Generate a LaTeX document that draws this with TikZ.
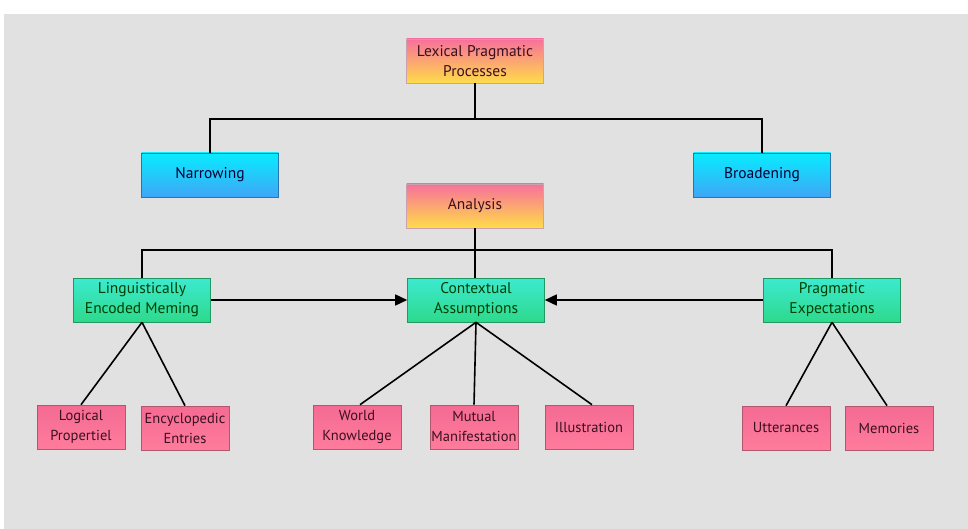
\documentclass[tikz,border=0pt]{standalone}
\usepackage{fontspec}
\setmainfont{PT Sans}
\usetikzlibrary{arrows.meta}
\definecolor{bggray}{HTML}{E1E1E1}
\definecolor{pkA}{HTML}{F7709C}
\definecolor{pkB}{HTML}{FFDC48}
\definecolor{blA}{HTML}{08ECFF}
\definecolor{blB}{HTML}{3FA6F6}
\definecolor{grA}{HTML}{3CEAD0}
\definecolor{grB}{HTML}{2ED98C}
\definecolor{rsA}{HTML}{F46A93}
\definecolor{rsB}{HTML}{FF7C9C}
\definecolor{txt}{HTML}{3A1020}
\tikzset{
  x=1pt, y=-1pt,
  base/.style={rectangle, inner sep=0pt, align=center, font=\fontsize{15.5}{20}\selectfont, text=txt},
  bigbox/.style={base, minimum width=137pt, minimum height=44pt},
  smallbox/.style={base, minimum width=88pt, minimum height=44pt, font=\fontsize{14.5}{20}\selectfont},
  warmbox/.style={bigbox, top color=pkA, bottom color=pkB, draw=pkA!60!black!50!white, line width=0.6pt},
  bluebox/.style={bigbox, top color=blA, bottom color=blB, draw=blB!70!black, line width=0.6pt, text=black!80!blue},
  greenbox/.style={bigbox, top color=grA, bottom color=grB, draw=grB!70!black, line width=0.6pt, text=black!75!green},
  pinkbox/.style={smallbox, top color=rsA, bottom color=rsB, draw=rsB!70!black, line width=0.6pt, text=txt},
  link/.style={draw=black, line width=1.6pt},
  arrowlink/.style={link, -{Triangle[length=12pt,width=11pt]}}
}
\begin{document}
\begin{tikzpicture}
\useasboundingbox (0,0) rectangle (968,529);
\fill[white] (0,0) rectangle (968,529);
\fill[bggray] (4,14) rectangle (968,529);

% nodes
\node[warmbox] (lpp) at (475,61) {Lexical Pragmatic\\Processes};
\node[bluebox] (nar) at (210,175) {Narrowing};
\node[bluebox] (bro) at (762,175) {Broadening};
\node[warmbox] (ana) at (475,206) {Analysis};
\node[greenbox] (lem) at (142,300) {Linguistically\\Encoded Meming};
\node[greenbox] (ca) at (476,300) {Contextual\\Assumptions};
\node[greenbox] (pe) at (832,300) {Pragmatic\\Expectations};
\node[pinkbox] (lp) at (81,427) {Logical\\Propertiel};
\node[pinkbox] (ee) at (185,428) {Encyclopedic\\Entries};
\node[pinkbox] (wk) at (357,427) {World\\Knowledge};
\node[pinkbox] (mm) at (474,427) {Mutual\\Manifestation};
\node[pinkbox] (il) at (589,427) {Illustration};
\node[pinkbox] (ut) at (786,428) {Utterances};
\node[pinkbox] (me) at (889,428) {Memories};

% top tree
\coordinate (j1) at (475,119);
\draw[link] (lpp.south) -- (j1);
\draw[link] (nar.north) |- (j1) -| (bro.north);

% analysis tree
\coordinate (j2) at (475,250);
\draw[link] (ana.south) -- (ana.south |- ca.north);
\draw[link] (lem.north) |- (j2) -| (pe.north);

% arrows into contextual assumptions
\draw[arrowlink] (lem.east) -- (ca.west);
\draw[arrowlink] (pe.west) -- (ca.east);

% branches
\draw[link] (lem.south) -- (lp.north);
\draw[link] (lem.south) -- (ee.north);
\draw[link] (ca.south) -- ([xshift=3pt]wk.north);
\draw[link] (ca.south) -- (mm.north);
\draw[link] (ca.south) -- ([xshift=3pt]il.north);
\draw[link] (pe.south) -- (ut.north);
\draw[link] (pe.south) -- ([xshift=-2pt]me.north);
\end{tikzpicture}
\end{document}
